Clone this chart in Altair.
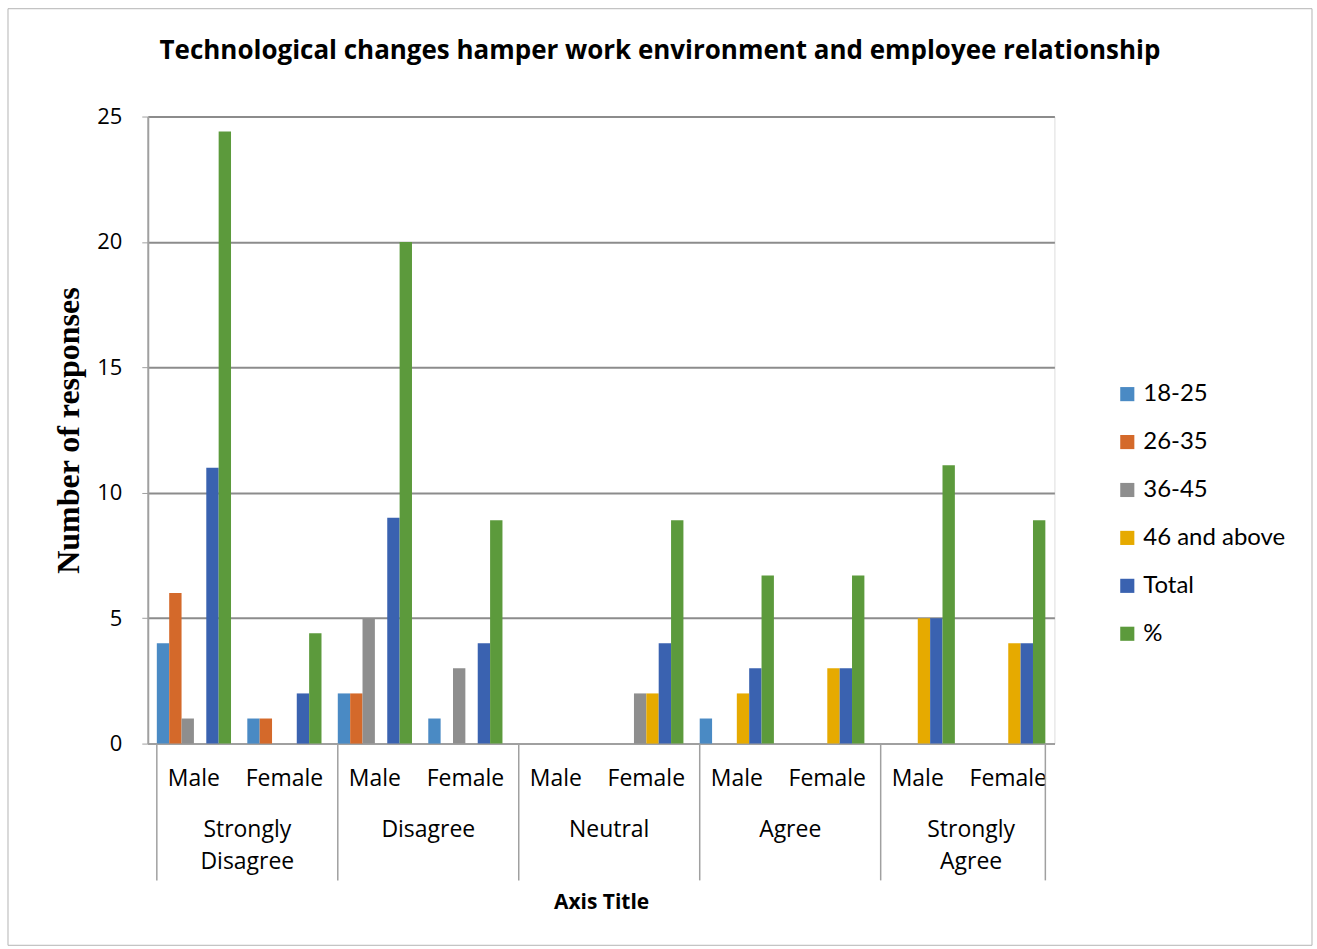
import altair as alt
import pandas as pd

groups = ["Strongly Disagree", "Disagree", "Neutral", "Agree", "Strongly Agree"]
group_lines = [["Strongly", "Disagree"], ["Disagree"], ["Neutral"], ["Agree"], ["Strongly", "Agree"]]
genders = ["Male", "Female"]
series = ["18-25", "26-35", "36-45", "46 and above", "Total", "%"]
colors = ["#4A8AC4", "#D4692A", "#8E8E8E", "#E6AA00", "#3A62B0", "#5C9A3C"]

# values per (group, gender) in series order
values = {
    ("Strongly Disagree", "Male"):   [4, 6, 1, 0, 11, 24.4],
    ("Strongly Disagree", "Female"): [1, 1, 0, 0, 2, 4.4],
    ("Disagree", "Male"):            [2, 2, 5, 0, 9, 20.0],
    ("Disagree", "Female"):          [1, 0, 3, 0, 4, 8.9],
    ("Neutral", "Male"):             [0, 0, 0, 0, 0, 0.0],
    ("Neutral", "Female"):           [0, 0, 2, 2, 4, 8.9],
    ("Agree", "Male"):               [1, 0, 0, 2, 3, 6.7],
    ("Agree", "Female"):             [0, 0, 0, 3, 3, 6.7],
    ("Strongly Agree", "Male"):      [0, 0, 0, 5, 5, 11.1],
    ("Strongly Agree", "Female"):    [0, 0, 0, 4, 4, 8.9],
}

keys = [f"{g}|{s}" for g in groups for s in genders]
rows = []
for g in groups:
    for s in genders:
        for ser, v in zip(series, values[(g, s)]):
            rows.append({"key": f"{g}|{s}", "series": ser, "value": v})
df = pd.DataFrame(rows)

W, H = 908, 628
FONT = "Lato"

x_enc = alt.X(
    "key:N", sort=keys,
    scale=alt.Scale(paddingInner=0.18, paddingOuter=0.1),
    axis=alt.Axis(
        title="Axis Title", labelExpr="split(datum.value, '|')[1]",
        labelAngle=0, labelFontSize=23, labelFont="Open Sans", labelColor="#000",
        labelPadding=24, ticks=False, domainColor="#A0A0A0", domainWidth=2,
        titleFont="Open Sans", titleFontSize=21, titleFontWeight="bold", titleColor="#000",
        titlePadding=101,
    ),
)

bars = alt.Chart(df).mark_bar().encode(
    x=x_enc,
    xOffset=alt.XOffset("series:N", sort=series, scale=alt.Scale(paddingInner=0)),
    y=alt.Y(
        "value:Q", scale=alt.Scale(domain=[0, 25]),
        axis=alt.Axis(
            title="Number of responses", values=[0, 5, 10, 15, 20, 25],
            labelFontSize=22, labelFont="Open Sans", labelColor="#000", labelPadding=20,
            tickSize=6, tickColor="#A0A0A0", domainColor="#A0A0A0", domainWidth=2,
            gridColor="#8C8C8C", gridWidth=2,
            titleFont="Liberation Serif", titleFontSize=32, titleFontWeight="bold",
            titleColor="#000", titlePadding=11,
        ),
    ),
    color=alt.Color(
        "series:N", sort=series, scale=alt.Scale(domain=series, range=colors),
        legend=alt.Legend(
            title=None, orient="none", legendX=969, legendY=266,
            symbolType="square", symbolSize=200, symbolStrokeWidth=0,
            labelFontSize=24, labelFont=FONT, labelColor="#000", rowPadding=24,
        ),
    ),
)

# separators between groups below the axis
sep_df = pd.DataFrame([{"key": f"{g}|Male"} for g in groups])
seps = alt.Chart(sep_df).mark_rule(color="#A0A0A0", strokeWidth=1.5).encode(
    x=alt.X("key:N", sort=keys, bandPosition=0),
    y=alt.value(H), y2=alt.value(H + 137),
)
end_sep = alt.Chart(pd.DataFrame([{"key": keys[-1]}])).mark_rule(color="#A0A0A0", strokeWidth=1.5).encode(
    x=alt.X("key:N", sort=keys, bandPosition=1),
    y=alt.value(H), y2=alt.value(H + 137),
)

lab_df = pd.DataFrame([{"key": f"{g}|Female", "label": lines} for g, lines in zip(groups, group_lines)])
glabels = alt.Chart(lab_df).mark_text(
    fontSize=23, font="Open Sans", color="#000", baseline="middle", lineHeight=32,
).encode(
    x=alt.X("key:N", sort=keys, bandPosition=0),
    y=alt.value(H + 87),
    text="label",
)

# thin frame around the whole chart
border = alt.Chart(pd.DataFrame([{"a": 0}])).mark_rect(
    fill=None, stroke="#B4B4B4", strokeWidth=1
).encode(
    x=alt.value(-140), x2=alt.value(1166), y=alt.value(-108), y2=alt.value(830),
)

chart = alt.layer(border, bars, seps, end_sep, glabels).properties(
    width=W, height=H,
    title=alt.Title(
        "Technological changes hamper work environment and employee relationship",
        font="Open Sans", fontSize=26, fontWeight="bold", color="#000",
        offset=-56, frame="bounds",
    ),
).configure_view(stroke=None).configure(padding={"left": 7, "top": 7, "right": 4, "bottom": 4})

chart.save("out.html", embed_options={"renderer": "svg", "actions": False})
